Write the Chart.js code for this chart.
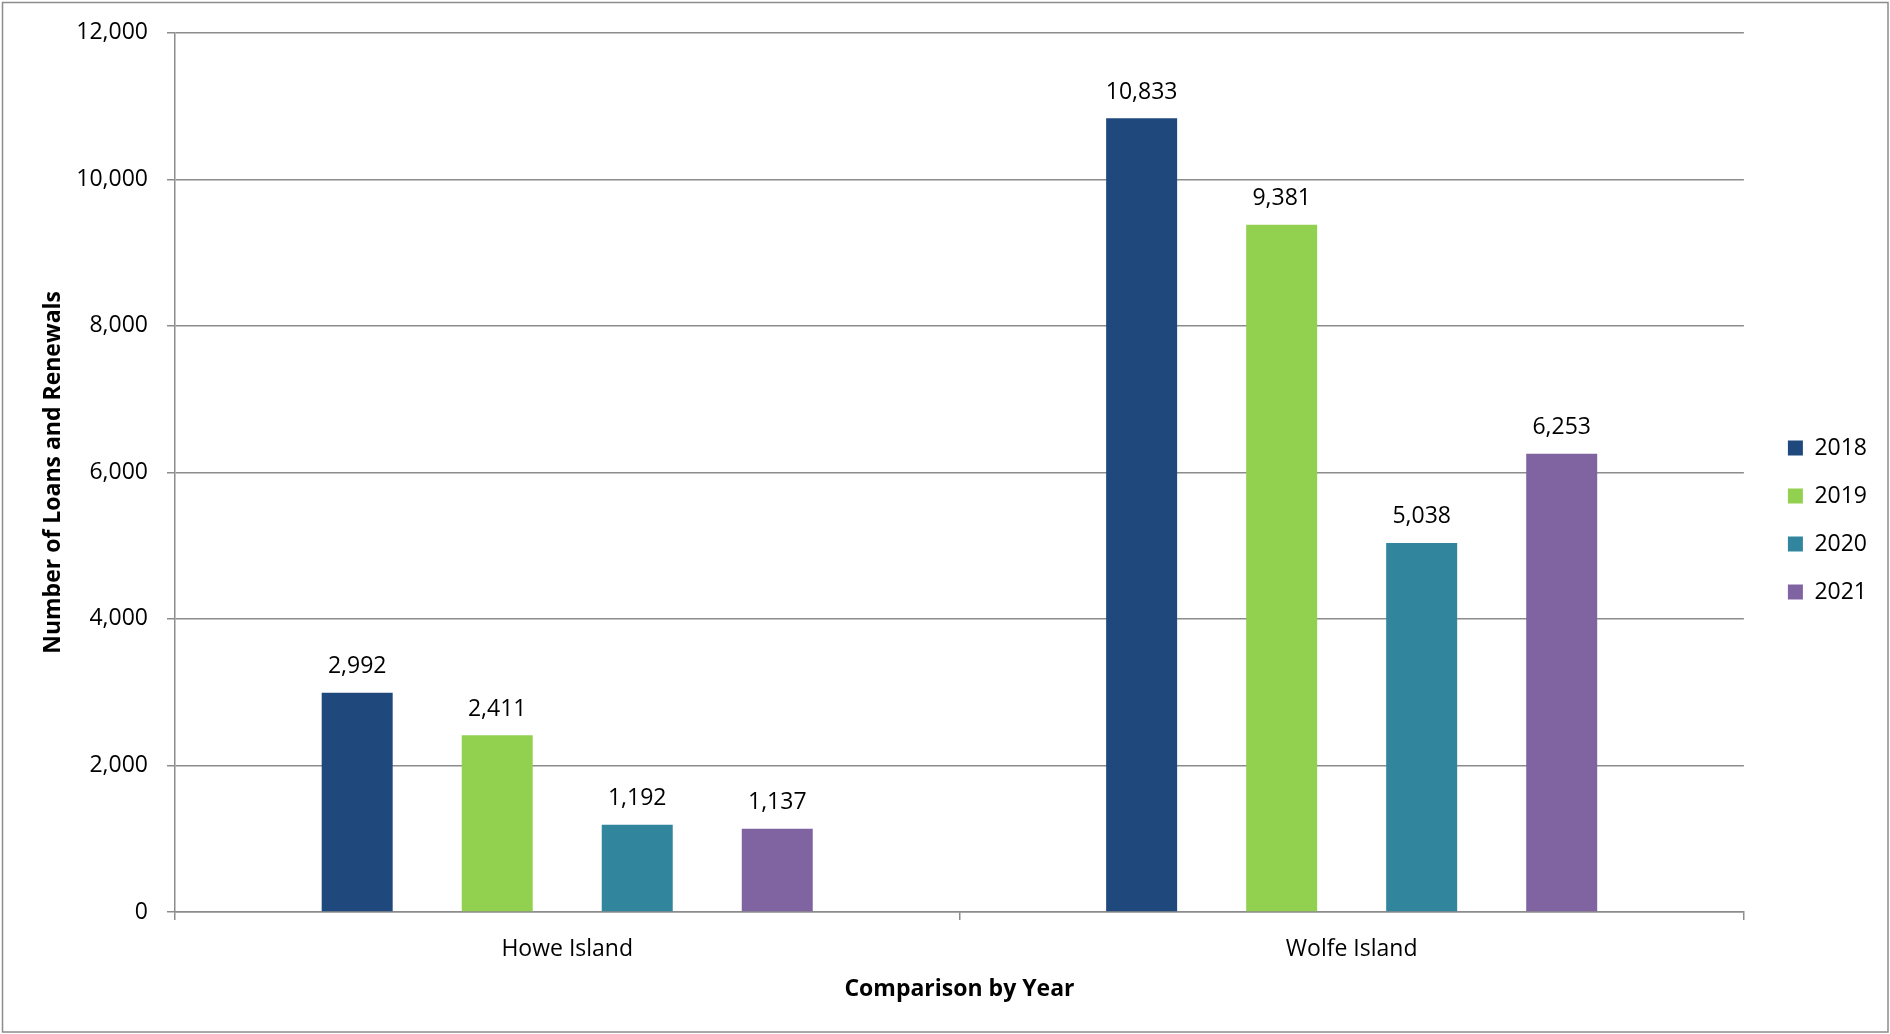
<!DOCTYPE html>
<html>
<head>
<meta charset="utf-8">
<script src="https://cdn.jsdelivr.net/npm/chart.js@4/dist/chart.umd.min.js"></script>
<style>
  html, body { margin: 0; padding: 0; background: #fff; }
  #wrap { width: 1890px; height: 1034px; position: relative; }
</style>
</head>
<body>
<div id="wrap"><canvas id="loans-chart"></canvas></div>
<script>
const branches = ['Howe Island', 'Wolfe Island']
const years = ['2018', '2019', '2020', '2021']
const loans2018 = [2992, 10833]
const loans2019 = [2411, 9381]
const loans2020 = [1192, 5038]
const loans2021 = [1137, 6253]
const yTicks = [0, 2000, 4000, 6000, 8000, 10000, 12000]

const colors = ['#1F497D', '#92D050', '#31859C', '#8064A2']
const font = 'Open Sans'
const grey = '#8c8c8c'

// outline round the whole picture
const frame = {
    id: 'frame',
    beforeDraw(chart) {
        const ctx = chart.ctx
        ctx.save()
        ctx.fillStyle = '#fff'
        ctx.fillRect(0, 0, chart.width, chart.height)
        ctx.strokeStyle = grey
        ctx.lineWidth = 1.5
        ctx.strokeRect(2.5, 2.5, chart.width - 4.5, chart.height - 4.5)
        ctx.restore()
    }
}

// value above every bar
const barValues = {
    id: 'barValues',
    afterDatasetsDraw(chart) {
        const ctx = chart.ctx
        ctx.save()
        ctx.font = '23px "' + font + '"'
        ctx.fillStyle = '#000'
        ctx.textAlign = 'center'
        ctx.textBaseline = 'middle'
        chart.data.datasets.forEach((ds, i) => {
            chart.getDatasetMeta(i).data.forEach((bar, j) => {
                ctx.fillText(ds.data[j].toLocaleString('en-US'), bar.x, bar.y - 26)
            })
        })
        ctx.restore()
    }
}

const series = [loans2018, loans2019, loans2020, loans2021]

window.onload = () => {
    const ctx = document.querySelector('#loans-chart').getContext('2d')
    new Chart(ctx, {
        type: 'bar',
        data: {
            labels: branches,
            datasets: years.map((y, i) => ({
                label: y,
                data: series[i],
                backgroundColor: colors[i],
                borderWidth: 0,
                categoryPercentage: 0.714,
                barPercentage: 0.507
            }))
        },
        options: {
            responsive: true,
            maintainAspectRatio: false,
            animation: false,
            layout: { padding: { left: 10, top: 32, right: 13, bottom: 26 } },
            plugins: {
                legend: {
                    position: 'right',
                    labels: {
                        boxWidth: 15,
                        boxHeight: 15,
                        padding: 25,
                        color: '#000',
                        font: { family: font, size: 23 }
                    }
                },
                tooltip: { enabled: false }
            },
            scales: {
                x: {
                    grid: { drawOnChartArea: false, color: grey, lineWidth: 1.5, tickLength: 8, offset: true },
                    border: { color: grey, width: 1.5 },
                    ticks: { color: '#000', padding: 16, font: { family: font, size: 23 } },
                    title: {
                        display: true,
                        text: 'Comparison by Year',
                        color: '#000',
                        font: { family: font, size: 23, weight: 'bold' },
                        padding: { top: 0, bottom: 5 }
                    },
                    afterFit: s => { s.height = 96 }
                },
                y: {
                    min: 0,
                    max: 12000,
                    afterBuildTicks: s => { s.ticks = yTicks.map(v => ({ value: v })) },
                    grid: { color: grey, lineWidth: 1.5, tickLength: 8 },
                    border: { color: grey, width: 1.5 },
                    ticks: {
                        color: '#000',
                        padding: 19,
                        font: { family: font, size: 23 },
                        callback: v => v.toLocaleString('en-US')
                    },
                    title: {
                        display: true,
                        text: 'Number of Loans and Renewals',
                        color: '#000',
                        font: { family: font, size: 23, weight: 'bold' },
                        padding: { top: 30, bottom: 0 }
                    },
                    afterFit: s => { s.width = 165 }
                },
                // empty strip so the plot stops short of the legend
                gap: {
                    type: 'linear',
                    position: 'right',
                    display: true,
                    grid: { display: false },
                    border: { display: false },
                    ticks: { display: false },
                    afterFit: s => { s.width = 19 }
                }
            }
        },
        plugins: [frame, barValues]
    })
}
</script>
</body>
</html>
